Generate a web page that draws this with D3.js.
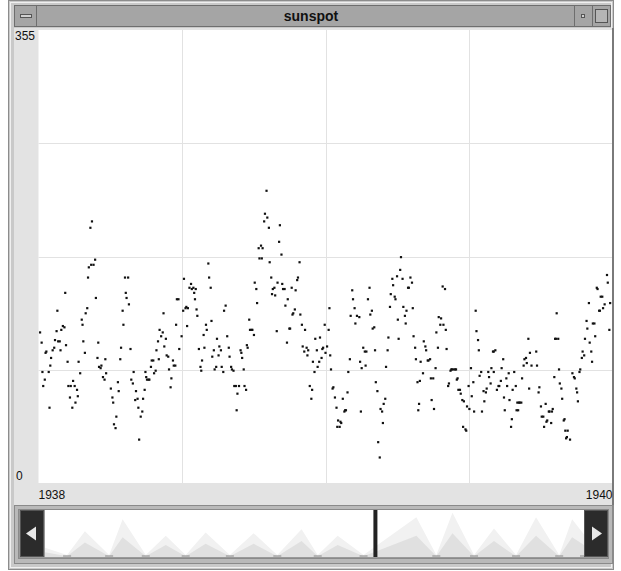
<!DOCTYPE html>
<html>
<head>
<meta charset="utf-8">
<script src="https://cdn.jsdelivr.net/npm/d3@7"></script>
<style>
  body { margin: 0; background: #fff; }
  text { font-family: "Liberation Sans", Arial, sans-serif; }
</style>
</head>
<body>
<svg width="621" height="571"></svg>
<script>
// Daily sunspot numbers, day offset from 1 Jan 1938
const days = [
  68,66,72,67,70,64,63,110,114,34,111,112,73,115,62,24,60,107,55,56,108,31,33,23,29,2,4,21,25,27,57,76,35,20,18,28,105,117,10,9,59,16,75,85,104,37,51,15,77,80,79,5,13,53,86,121,82,84,8,118,44,101,120,6,38,41,46,92,49,102,50,40,94,47,95,14,43,99,96,98,
  216,185,217,194,192,197,195,200,219,198,176,178,199,238,188,187,190,184,201,236,159,202,220,175,189,213,154,214,158,156,182,210,227,240,162,152,160,179,204,211,230,242,223,150,232,163,165,221,229,243,171,144,146,208,153,172,174,143,206,226,224,233,166,136,149,147,207,235,137,138,140,141,169,135,168,124,126,123,133,127,132,130,128,
  290,288,291,287,293,307,306,280,283,285,309,281,284,294,332,296,330,275,329,304,310,300,298,311,313,322,277,327,297,301,317,278,314,326,324,323,333,268,335,269,271,272,303,274,319,320,339,364,316,352,358,265,266,336,341,343,338,361,362,354,257,258,365,342,259,360,349,357,355,245,246,248,261,351,249,251,255,262,345,264,348,253,347,252,
  461,460,456,450,463,473,475,451,421,399,470,471,448,453,454,400,419,370,402,447,464,476,424,422,468,397,405,408,466,457,403,467,427,425,369,477,445,458,367,413,479,415,417,428,444,371,480,396,409,486,416,411,442,372,394,429,482,485,375,374,431,393,377,441,387,439,379,435,390,391,389,410,437,483,484,381,384,385,380,383,438,432,434,
  514,517,509,512,511,515,518,506,556,557,559,560,490,492,493,508,519,578,579,581,591,498,496,495,505,525,526,528,530,531,524,550,576,589,489,499,502,532,533,563,561,572,579,598,605,573,595,522,521,553,575,588,547,585,586,596,607,570,534,536,537,566,569,583,603,551,592,500,539,541,599,609,567,545,548,503,554,564,593,608,602,601,540,544,543,
  723,724,710,711,715,717,720,727,714,713,718,700,659,697,705,707,698,708,695,701,726,623,657,658,661,692,703,694,625,633,691,620,618,621,617,627,634,704,689,662,615,656,679,681,682,688,663,665,684,685,624,637,636,666,686,611,612,614,645,639,654,653,649,650,640,642,647,646,652,643,669,668,670,673,672,671,676,610
];
const spots = [
  205,200,175,171,171,169,161,161,161,149,149,145,145,140,137,135,133,135,128,124,124,123,122,119,120,118,110,112,111,111,111,110,108,106,104,104,106,105,103,102,102,98,98,97,97,95,95,92,91,92,90,87,87,86,86,87,83,81,81,81,80,79,78,76,76,76,76,74,73,72,68,67,67,63,63,59,59,52,46,43,
  172,160,161,156,153,153,152,152,153,149,144,144,144,139,138,137,137,135,136,135,133,131,127,124,123,124,120,120,118,115,115,116,113,115,113,111,107,105,105,106,107,106,104,104,104,100,99,99,100,99,96,96,96,96,97,92,92,91,91,91,89,91,89,87,88,86,88,87,83,81,81,81,82,73,75,72,66,65,66,59,56,52,34,
  229,211,208,205,200,202,189,184,186,184,179,176,176,173,173,161,161,157,159,157,156,153,152,152,152,153,152,151,148,147,144,141,139,136,133,132,132,128,124,120,120,120,119,116,121,121,120,124,110,113,114,108,106,107,106,104,103,105,106,104,104,102,102,100,98,98,95,95,91,91,89,88,89,87,76,76,76,76,76,73,73,70,66,57,
  177,167,162,160,160,161,157,155,153,151,153,153,148,146,144,144,144,137,137,138,138,137,135,132,135,131,131,130,131,128,125,125,122,121,120,115,114,113,107,106,106,103,103,104,104,100,97,97,95,95,92,90,91,89,87,79,79,80,75,74,72,71,67,66,66,62,59,58,57,57,56,56,56,57,62,49,48,47,44,44,47,32,20,
  154,152,130,129,124,124,120,118,135,119,112,104,111,107,104,106,105,103,103,104,97,97,96,96,90,89,89,89,89,89,88,90,90,90,86,82,82,81,82,87,84,87,87,86,87,83,82,78,76,79,78,80,76,76,76,76,76,74,73,73,70,72,71,73,73,68,67,65,65,64,65,63,64,60,58,58,56,56,57,57,50,44,44,41,42,
  163,157,153,152,146,146,140,141,135,135,137,141,133,127,125,125,121,115,113,110,120,113,113,113,113,103,103,100,102,103,98,98,97,94,92,92,92,95,89,89,82,83,86,83,82,87,78,74,74,71,74,75,71,66,64,63,63,63,62,60,58,56,56,56,52,52,49,48,47,44,50,49,41,41,36,35,34,57
];

// Y-axis range and x-axis end labels
const yMax = 355;
const xLabels = ["1938", "1940"];

// Overview strip (whole record): cycle minima / maxima, position as fraction of the record
const ovPos = [0, .041, .074, .119, .144, .187, .224, .261, .298, .343, .387, .431, .476, .506, .543, .591, .689, .726, .756, .796, .833, .874, .911, .954, .978, 1];
const ovHi  = [70, 15, 195, 15, 285, 15, 160, 15, 185, 15, 180, 15, 210, 15, 160, 15, 300, 15, 335, 15, 215, 15, 300, 15, 285, 170];
const ovMid = [35, 5, 110, 5, 150, 5, 90, 5, 100, 5, 100, 5, 120, 5, 90, 5, 160, 5, 180, 5, 120, 5, 160, 5, 150, 90];
const ovWindow = 0.613;

const svg = d3.select("svg");

// Window frame
svg.append("rect").attr("x", 8.5).attr("y", 0.5).attr("width", 605).attr("height", 569)
    .attr("fill", "#c9c9c9").attr("stroke", "#8c8c8c");
svg.append("rect").attr("x", 10.5).attr("y", 2.5).attr("width", 601).attr("height", 565)
    .attr("fill", "none").attr("stroke", "#f0f0f0");

// Title bar
svg.append("rect").attr("x", 14.5).attr("y", 5.5).attr("width", 596).attr("height", 21)
    .attr("fill", "#a5a5a5").attr("stroke", "#6e6e6e");
svg.append("rect").attr("x", 14.5).attr("y", 5.5).attr("width", 22).attr("height", 21)
    .attr("fill", "#a5a5a5").attr("stroke", "#6e6e6e");
svg.append("rect").attr("x", 20.5).attr("y", 14.5).attr("width", 11).attr("height", 3)
    .attr("fill", "#d0d0d0").attr("stroke", "#555");
svg.append("rect").attr("x", 574.5).attr("y", 5.5).attr("width", 18).attr("height", 21)
    .attr("fill", "#a5a5a5").attr("stroke", "#6e6e6e");
svg.append("rect").attr("x", 581.5).attr("y", 14.5).attr("width", 3).attr("height", 3)
    .attr("fill", "#d0d0d0").attr("stroke", "#555");
svg.append("rect").attr("x", 592.5).attr("y", 5.5).attr("width", 18).attr("height", 21)
    .attr("fill", "#a5a5a5").attr("stroke", "#6e6e6e");
svg.append("rect").attr("x", 595.5).attr("y", 9.5).attr("width", 12).attr("height", 13)
    .attr("fill", "#b5b5b5").attr("stroke", "#555");
svg.append("text").attr("x", 311).attr("y", 21).attr("text-anchor", "middle")
    .attr("font-size", 14).attr("font-weight", "bold").attr("fill", "#111").text("sunspot");

// Panel (label gutter + x-label band)
svg.append("rect").attr("x", 14).attr("y", 28).attr("width", 598).attr("height", 477).attr("fill", "#e3e3e3");

const start = new Date(1938, 0, 1), end = new Date(1940, 0, 1);
const x = d3.scaleTime().domain([start, end]).range([38.5, 612.5]);
const y = d3.scaleLinear().domain([0, yMax]).range([483, 30]);

svg.append("rect").attr("x", 38.5).attr("y", 30).attr("width", 574).attr("height", 453).attr("fill", "#fff");

// Grid at quarters of each axis
const grid = svg.append("g").attr("stroke", "#e2e2e2").attr("stroke-width", 1);
[0.25, 0.5, 0.75].forEach(f => {
  const gx = Math.round(x(new Date(+start + f * (end - start)))) + 0.5;
  grid.append("line").attr("x1", gx).attr("x2", gx).attr("y1", 30).attr("y2", 483);
  const gy = Math.round(y(f * yMax)) + 0.5;
  grid.append("line").attr("x1", 38.5).attr("x2", 612.5).attr("y1", gy).attr("y2", gy);
});

// Right edge of plot
svg.append("rect").attr("x", 612).attr("y", 28).attr("width", 2).attr("height", 477).attr("fill", "#7a7a7a");

// Points
svg.append("g").selectAll("rect")
  .data(d3.range(days.length))
  .join("rect")
    .attr("x", i => x(d3.timeDay.offset(start, days[i])) - 1.1)
    .attr("y", i => y(spots[i]) - 1.1)
    .attr("width", 2.2).attr("height", 2.2)
    .attr("fill", "#111");

// Axis labels
const lab = svg.append("g").attr("font-size", 12).attr("fill", "#111");
lab.append("text").attr("x", 15).attr("y", 40).text(yMax);
lab.append("text").attr("x", 16).attr("y", 480).text(0);
lab.append("text").attr("x", x(start)).attr("y", 499).text(xLabels[0]);
lab.append("text").attr("x", x(end)).attr("y", 499).attr("text-anchor", "end").text(xLabels[1]);

// Scrollbar with overview of the whole record
svg.append("rect").attr("x", 14.5).attr("y", 505.5).attr("width", 598).attr("height", 58)
    .attr("fill", "#b9b9b9").attr("stroke", "#8a8a8a");
svg.append("rect").attr("x", 18.5).attr("y", 509.5).attr("width", 590).attr("height", 49)
    .attr("fill", "#999").attr("stroke", "#8a8a8a");

const ox = d3.scaleLinear().domain([0, 1]).range([45, 584]);
const oy = d3.scaleLinear().domain([0, yMax]).range([557, 510]);
svg.append("rect").attr("x", 45).attr("y", 510).attr("width", 539).attr("height", 47).attr("fill", "#fff");

const ovArea = (vals) => d3.area()
  .x((d, i) => ox(ovPos[i])).y0(oy(0)).y1((d, i) => oy(vals[i]))
  .curve(d3.curveLinear)(vals);
svg.append("path").attr("d", ovArea(ovHi)).attr("fill", "#f1f1f1");
svg.append("path").attr("d", ovArea(ovMid)).attr("fill", "#e0e0e0");
svg.append("g").selectAll("line")
  .data(ovPos.filter((d, i) => i % 2 === 1))
  .join("line")
    .attr("x1", d => ox(d) - 4).attr("x2", d => ox(d) + 4)
    .attr("y1", 556).attr("y2", 556)
    .attr("stroke", "#888").attr("stroke-width", 1);

// Thumb marking the current window
svg.append("rect").attr("x", ox(ovWindow) - 2).attr("y", 510).attr("width", 4).attr("height", 47).attr("fill", "#222");

// Arrow buttons
[[20, "l"], [584, "r"]].forEach(([bx, dir]) => {
  svg.append("rect").attr("x", bx).attr("y", 510).attr("width", 24).attr("height", 47).attr("fill", "#2b2b2b");
  svg.append("rect").attr("x", bx + 0.5).attr("y", 510.5).attr("width", 23).attr("height", 46)
      .attr("fill", "none").attr("stroke", "#555");
  const cx = bx + 12, cy = 533.5;
  const pts = dir === "l"
    ? [[cx - 6, cy], [cx + 4, cy - 7], [cx + 4, cy + 7]]
    : [[cx + 6, cy], [cx - 4, cy - 7], [cx - 4, cy + 7]];
  svg.append("polygon").attr("points", pts.join(" ")).attr("fill", "#e8e8e8");
});
</script>
</body>
</html>
